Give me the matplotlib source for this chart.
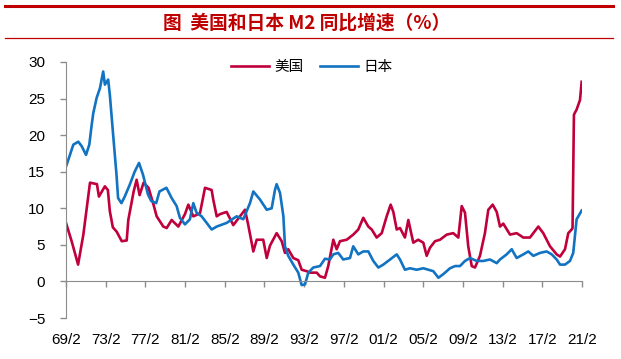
"""US vs Japan M2 YoY growth (%), monthly, 1969/2 - 2021/2."""
import matplotlib

matplotlib.use("Agg")
import matplotlib.pyplot as plt
from matplotlib.lines import Line2D

plt.rcParams["font.family"] = ["Liberation Sans", "Noto Sans CJK SC", "DejaVu Sans"]

# --- data ---
us_t = [1969.08, 1969.65, 1970.3, 1970.83, 1971.5, 1972.2, 1972.4, 1973.0, 1973.3, 1973.5,
        1973.8, 1974.19, 1974.7, 1975.2, 1975.36, 1975.9, 1976.2, 1976.5, 1976.9, 1977.4,
        1977.9, 1978.22, 1978.89, 1979.23, 1979.73, 1980.4, 1981.07, 1981.41, 1981.91, 1982.58,
        1983.09, 1983.76, 1983.92, 1984.27, 1984.6, 1985.27, 1985.94, 1986.62, 1987.12, 1987.45,
        1987.96, 1988.3, 1988.96, 1989.31, 1989.64, 1990.31, 1990.82, 1991.15, 1991.48, 1991.99,
        1992.49, 1992.83, 1993.34, 1993.67, 1994.35, 1994.68, 1995.18, 1995.51, 1996.02, 1996.36,
        1996.69, 1997.37, 1998.03, 1998.54, 1999.04, 1999.55, 1999.89, 2000.39, 2000.9, 2001.4,
        2001.8, 2002.07, 2002.41, 2002.74, 2003.24, 2003.58, 2004.08, 2004.58, 2005.09, 2005.43,
        2005.76, 2006.27, 2006.77, 2007.45, 2008.11, 2008.62, 2008.96, 2009.29, 2009.62, 2009.97,
        2010.3, 2010.8, 2011.3, 2011.64, 2012.08, 2012.49, 2012.82, 2013.15, 2013.83, 2014.5,
        2015.17, 2015.84, 2016.68, 2017.18, 2017.86, 2018.53, 2018.87, 2019.37, 2019.7, 2020.04,
        2020.13, 2020.27, 2020.54, 2020.88, 2021.05]
us_v = [8.0, 5.5, 2.3, 6.4, 13.5, 13.3, 11.6, 13.0, 12.5, 9.6,
        7.4, 6.8, 5.5, 5.6, 8.4, 12.3, 13.9, 11.8, 13.5, 12.8,
        10.5, 8.9, 7.5, 7.3, 8.4, 7.5, 9.2, 10.5, 8.9, 9.3,
        12.8, 12.5, 11.2, 8.9, 9.2, 9.5, 7.7, 8.9, 9.8, 7.7,
        4.1, 5.7, 5.7, 3.2, 4.9, 6.6, 5.5, 3.9, 4.4, 3.2,
        2.9, 1.6, 1.4, 1.2, 1.2, 0.7, 0.5, 2.1, 5.7, 4.4,
        5.5, 5.7, 6.4, 7.1, 8.7, 7.5, 7.1, 6.0, 6.6, 8.9,
        10.5, 9.5, 7.1, 7.3, 6.0, 8.4, 5.3, 5.7, 5.3, 3.5,
        4.6, 5.5, 5.7, 6.4, 6.6, 6.0, 10.3, 9.4, 4.8, 2.1,
        1.9, 3.5, 6.6, 9.8, 10.5, 9.5, 7.5, 7.9, 6.4, 6.6,
        6.0, 6.0, 7.5, 6.6, 4.8, 3.7, 3.4, 4.4, 6.6, 7.1,
        7.3, 22.8, 23.5, 24.8, 27.3]

jp_t = [1969.08, 1969.48, 1969.82, 1970.32, 1970.66, 1971.1, 1971.43, 1971.67, 1971.83, 1972.17,
        1972.5, 1972.83, 1973.0, 1973.33, 1973.5, 1973.83, 1974.17, 1974.33, 1974.67, 1975.0,
        1975.5, 1976.0, 1976.44, 1976.84, 1977.34, 1977.67, 1978.17, 1978.5, 1979.2, 1979.73,
        1980.23, 1980.56, 1981.07, 1981.57, 1981.91, 1982.24, 1982.75, 1983.26, 1983.76, 1984.27,
        1985.27, 1986.28, 1986.95, 1987.62, 1987.96, 1988.63, 1989.31, 1989.81, 1990.14, 1990.31,
        1990.65, 1990.99, 1991.15, 1991.48, 1991.99, 1992.49, 1992.83, 1993.17, 1993.5, 1994.0,
        1994.68, 1995.18, 1995.68, 1996.02, 1996.52, 1997.02, 1997.7, 1998.03, 1998.54, 1999.04,
        1999.55, 2000.05, 2000.56, 2001.06, 2001.74, 2002.41, 2002.74, 2003.24, 2003.75, 2004.42,
        2005.09, 2005.6, 2006.1, 2006.61, 2007.11, 2007.78, 2008.29, 2008.79, 2009.29, 2009.8,
        2010.47, 2011.14, 2011.81, 2012.49, 2012.82, 2013.49, 2014.0, 2014.5, 2015.17, 2015.67,
        2016.18, 2016.85, 2017.52, 2018.03, 2018.53, 2018.87, 2019.37, 2019.87, 2020.2, 2020.37,
        2020.54, 2020.8, 2021.05]
jp_v = [15.7, 17.3, 18.7, 19.1, 18.5, 17.3, 18.7, 21.4, 23.0, 25.1,
        26.4, 28.7, 26.9, 27.6, 25.5, 20.1, 14.6, 11.4, 10.7, 11.6,
        13.2, 15.0, 16.2, 14.6, 11.9, 11.0, 10.7, 12.3, 12.8, 11.4,
        10.3, 8.7, 7.8, 8.5, 10.7, 9.4, 8.9, 8.0, 7.1, 7.5,
        8.0, 8.9, 8.5, 10.7, 12.3, 11.2, 9.8, 10.0, 12.5, 13.3,
        12.1, 8.9, 4.8, 3.5, 2.3, 1.2, -0.5, -0.4, 1.2, 1.9,
        2.1, 3.1, 3.0, 3.7, 3.9, 3.0, 3.2, 4.8, 3.7, 4.1,
        4.1, 2.8, 1.9, 2.3, 3.0, 3.7, 3.0, 1.6, 1.8, 1.6,
        1.8, 1.6, 1.4, 0.5, 1.0, 1.8, 2.1, 2.1, 2.8, 3.2,
        2.8, 2.8, 3.0, 2.5, 3.0, 3.7, 4.4, 3.2, 3.7, 4.1,
        3.5, 3.9, 4.1, 3.7, 3.0, 2.3, 2.3, 2.8, 3.9, 6.2,
        8.5, 9.1, 9.7]

tick_years = list(range(1969, 2022, 4))
tick_labels = [f"{y % 100:02d}/2" for y in tick_years]

US_RED = "#C0003C"
JP_BLUE = "#1273C2"
TITLE_RED = "#C00000"

fig = plt.figure(figsize=(6.21, 3.59), dpi=100)
ax = fig.add_axes([0.1063, 0.1142, 0.8309, 0.7131])

ax.plot(us_t, us_v, color=US_RED, lw=1.9, label="美国")
ax.plot(jp_t, jp_v, color=JP_BLUE, lw=1.9, label="日本")

ax.set_xlim(1969.083, 2021.083)
ax.set_ylim(-5, 30)
ax.set_yticks(range(-5, 31, 5))
ax.set_xticks([y + 1 / 12 for y in tick_years])
ax.set_xticklabels(tick_labels)

for s in ("top", "right"):
    ax.spines[s].set_visible(False)
ax.spines["bottom"].set_position(("data", 0))
ax.spines["left"].set_color("#8c8c8c")
ax.spines["bottom"].set_color("#8c8c8c")
ax.tick_params(axis="both", colors="#8c8c8c", labelcolor="black", labelsize=11,
               length=4, width=1, direction="out")
ax.tick_params(axis="x", pad=33)
ax.tick_params(axis="y", pad=11)

ax.legend(loc="center", bbox_to_anchor=(0.476, 0.98), ncol=2, frameon=False,
          prop={"family": ["Noto Sans CJK SC"], "size": 10.5}, handlelength=2.6,
          columnspacing=1.1, handletextpad=0.4)

# header: thick red rule, title, thin red rule
fig.add_artist(Line2D([0.008, 0.987], [0.984, 0.984], color=TITLE_RED, lw=2.2))
fig.add_artist(Line2D([0.008, 0.987], [0.895, 0.895], color=TITLE_RED, lw=0.9))
fig.text(0.494, 0.935, "图  美国和日本 M2 同比增速（%）", ha="center", va="center",
         color=TITLE_RED, fontsize=13.5, fontweight="bold",
         family=["Noto Sans CJK SC", "DejaVu Sans"])

fig.savefig("out.png", dpi=100)
